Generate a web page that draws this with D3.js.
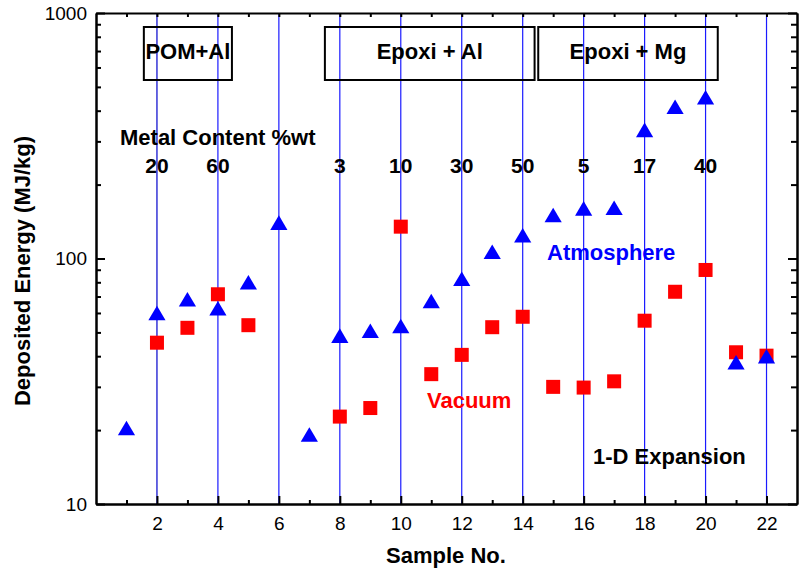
<!DOCTYPE html>
<html>
<head>
<meta charset="utf-8">
<script src="https://cdn.jsdelivr.net/npm/d3@7"></script>
<style>
  html, body { margin: 0; padding: 0; background: #fff; }
  svg { display: block; font-family: "Liberation Sans", Arial, sans-serif; }
</style>
</head>
<body>
<svg id="chart" width="805" height="573"></svg>
<script>
// ---- data ----
const atmSamples = [1,2,3,4,5,6,7,8,9,10,11,12,13,14,15,16,17,18,19,20,21,22];
const atmValues  = [20.4,60.0,68.2,62.7,80.0,140,19.2,48.5,50.8,53.1,67.1,82.7,106.6,124.3,150.3,160,161,334,415,454,37.8,40.0];
const vacSamples = [2,3,4,5,8,9,10,11,12,13,14,15,16,17,18,19,20,21,22];
const vacValues  = [45.4,52.2,71.5,53.5,22.7,24.6,134.8,33.8,40.5,52.5,57.9,30.0,29.8,31.6,55.8,73.2,89.8,41.5,40.2];
const guideSamples = [2,4,6,8,10,12,14,16,18,20,22];
const contentSamples = [2,4,8,10,12,14,16,18,20];
const contentLabels  = ["20","60","3","10","30","50","5","17","40"];
const groupLabels = ["POM+Al","Epoxi + Al","Epoxi + Mg"];
const groupRanges = [[1.57,4.46],[7.51,14.39],[14.51,20.40]];
const xMajorTicks = [2,4,6,8,10,12,14,16,18,20,22];
const xMinorTicks = [1,3,5,7,9,11,13,15,17,19,21];
const yMajorTicks = [10,100,1000];
const yMinorTicks = [20,30,40,50,60,70,80,90,200,300,400,500,600,700,800,900];

// ---- layout ----
const L = 96, R = 797, T = 13, B = 504;
const svg = d3.select("#chart");
const x = d3.scaleLinear().domain([0,23]).range([L,R]);
const y = d3.scaleLog().domain([10,1000]).range([B,T]);

// guide lines
svg.append("g").selectAll("line").data(guideSamples).join("line")
  .attr("x1", d => x(d)).attr("x2", d => x(d))
  .attr("y1", T).attr("y2", B)
  .attr("stroke", d => d === 2 ? "#0000cc" : "#1a1aff").attr("stroke-width", 1.2);

// axes
function styleAxis(g) {
  g.selectAll("path.domain").attr("stroke", "#000").attr("stroke-width", 2);
  g.selectAll(".tick line").attr("stroke", "#000").attr("stroke-width", 2);
  g.selectAll(".tick text").attr("fill", "#000").attr("font-size", 19)
    .attr("font-family", "'Liberation Sans', Arial, sans-serif");
}
// bottom
svg.append("g").attr("transform", `translate(0,${B})`)
  .call(d3.axisBottom(x).tickValues(xMinorTicks).tickSize(-4).tickSizeOuter(0).tickFormat(""))
  .call(styleAxis);
svg.append("g").attr("transform", `translate(0,${B})`)
  .call(d3.axisBottom(x).tickValues(xMajorTicks).tickSize(-8).tickSizeOuter(0).tickPadding(13).tickFormat(d3.format("d")))
  .call(styleAxis);
// top
svg.append("g").attr("transform", `translate(0,${T})`)
  .call(d3.axisTop(x).tickValues(xMinorTicks.concat(xMajorTicks)).tickSize(-4).tickSizeOuter(0).tickFormat(""))
  .call(styleAxis);
// left
svg.append("g").attr("transform", `translate(${L},0)`)
  .call(d3.axisLeft(y).tickValues(yMinorTicks).tickSize(-5).tickSizeOuter(0).tickFormat(""))
  .call(styleAxis);
svg.append("g").attr("transform", `translate(${L},0)`)
  .call(d3.axisLeft(y).tickValues(yMajorTicks).tickSize(-9).tickSizeOuter(0).tickPadding(9).tickFormat(d3.format("d")))
  .call(styleAxis);
// right
svg.append("g").attr("transform", `translate(${R},0)`)
  .call(d3.axisRight(y).tickValues(yMinorTicks).tickSize(-6).tickSizeOuter(0).tickFormat(""))
  .call(styleAxis);
svg.append("g").attr("transform", `translate(${R},0)`)
  .call(d3.axisRight(y).tickValues(yMajorTicks).tickSize(-9).tickSizeOuter(0).tickFormat(""))
  .call(styleAxis);

// group boxes
const boxTop = 27, boxBottom = 80;
const gb = svg.append("g");
groupLabels.forEach((lab, i) => {
  const x0 = x(groupRanges[i][0]), x1 = x(groupRanges[i][1]);
  gb.append("rect").attr("x", x0).attr("y", boxTop).attr("width", x1 - x0).attr("height", boxBottom - boxTop)
    .attr("fill", "none").attr("stroke", "#000").attr("stroke-width", 2);
  gb.append("text").attr("x", (x0 + x1) / 2).attr("y", 59).attr("text-anchor", "middle")
    .attr("font-size", 22).attr("font-weight", "bold").attr("fill", "#000").text(lab);
});

// metal content
svg.append("text").attr("x", 120).attr("y", 145).attr("font-size", 22).attr("font-weight", "bold")
  .attr("fill", "#000").text("Metal Content %wt");
svg.append("g").selectAll("text").data(contentSamples).join("text")
  .attr("x", d => x(d)).attr("y", 173).attr("text-anchor", "middle")
  .attr("font-size", 21).attr("font-weight", "bold").attr("fill", "#000")
  .text((d, i) => contentLabels[i]);

// series
const sq = 14;
svg.append("g").selectAll("rect").data(vacSamples).join("rect")
  .attr("x", d => x(d) - sq / 2)
  .attr("y", (d, i) => y(vacValues[i]) - sq / 2)
  .attr("width", sq).attr("height", sq).attr("fill", "#ff0000");

const tw = 8.6, th = 7.3;
svg.append("g").selectAll("path").data(atmSamples).join("path")
  .attr("d", (d, i) => {
    const cx = x(d), cy = y(atmValues[i]);
    return `M${cx},${cy - th}L${cx + tw},${cy + th}L${cx - tw},${cy + th}Z`;
  })
  .attr("fill", "#0000ff");

// series labels
svg.append("text").attr("x", 547).attr("y", 260).attr("font-size", 22).attr("font-weight", "bold")
  .attr("fill", "#0000ff").text("Atmosphere");
svg.append("text").attr("x", 427).attr("y", 408).attr("font-size", 22).attr("font-weight", "bold")
  .attr("fill", "#ff0000").text("Vacuum");
svg.append("text").attr("x", 593).attr("y", 464).attr("font-size", 22).attr("font-weight", "bold")
  .attr("fill", "#000").text("1-D Expansion");

// axis titles
svg.append("text").attr("x", 446).attr("y", 563).attr("text-anchor", "middle")
  .attr("font-size", 22).attr("font-weight", "bold").attr("fill", "#000")
  .text("Sample No.");
svg.append("text").attr("transform", "translate(30,271) rotate(-90)").attr("text-anchor", "middle")
  .attr("font-size", 22).attr("font-weight", "bold").attr("fill", "#000")
  .text("Deposited Energy (MJ/kg)");
</script>
</body>
</html>
